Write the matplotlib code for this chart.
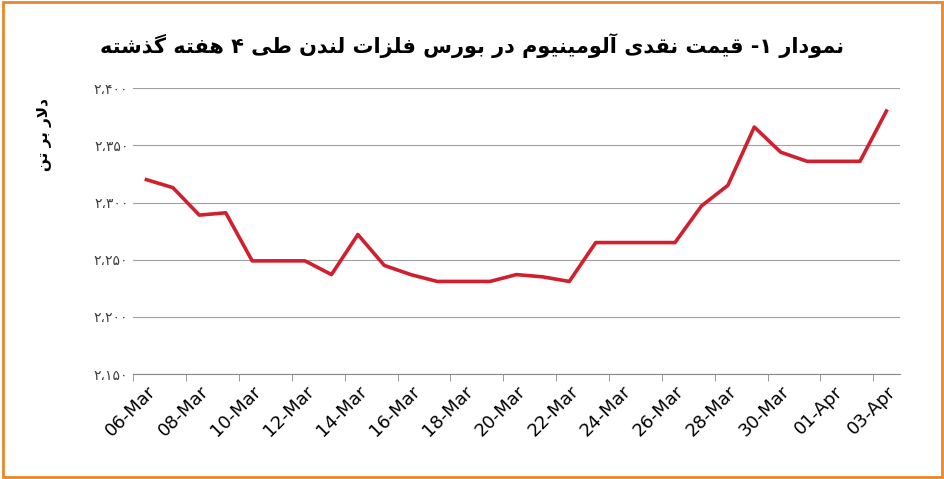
import numpy as np
import matplotlib.pyplot as plt
from matplotlib.patches import Rectangle

# داده ها
dates = ['06-Mar', '07-Mar', '08-Mar', '09-Mar', '10-Mar', '11-Mar', '12-Mar', '13-Mar',
         '14-Mar', '15-Mar', '16-Mar', '17-Mar', '18-Mar', '19-Mar', '20-Mar', '21-Mar',
         '22-Mar', '23-Mar', '24-Mar', '25-Mar', '26-Mar', '27-Mar', '28-Mar', '29-Mar',
         '30-Mar', '31-Mar', '01-Apr', '02-Apr', '03-Apr']
prices = [2320, 2313, 2289, 2291, 2249, 2249, 2249, 2237, 2272, 2245, 2237, 2231, 2231,
          2231, 2237, 2235, 2231, 2265, 2265, 2265, 2265, 2297, 2315, 2366, 2344, 2336,
          2336, 2336, 2380]
y_ticks = [2150, 2200, 2250, 2300, 2350, 2400]

title_text = 'نمودار ۱- قیمت نقدی آلومینیوم در بورس فلزات لندن طی ۴ هفته گذشته'
ylabel_text = 'دلار بر تن'

# شکل دهی ساده حروف فارسی (iso, fin, ini, med)
FORMS = {
    'ا': (0xFE8D, 0xFE8E, None, None), 'آ': (0xFE81, 0xFE82, None, None),
    'د': (0xFEA9, 0xFEAA, None, None), 'ذ': (0xFEAB, 0xFEAC, None, None),
    'ر': (0xFEAD, 0xFEAE, None, None), 'ز': (0xFEAF, 0xFEB0, None, None),
    'و': (0xFEED, 0xFEEE, None, None),
    'ب': (0xFE8F, 0xFE90, 0xFE91, 0xFE92), 'ت': (0xFE95, 0xFE96, 0xFE97, 0xFE98),
    'س': (0xFEB1, 0xFEB2, 0xFEB3, 0xFEB4), 'ش': (0xFEB5, 0xFEB6, 0xFEB7, 0xFEB8),
    'ط': (0xFEC1, 0xFEC2, 0xFEC3, 0xFEC4), 'ف': (0xFED1, 0xFED2, 0xFED3, 0xFED4),
    'ق': (0xFED5, 0xFED6, 0xFED7, 0xFED8), 'ل': (0xFEDD, 0xFEDE, 0xFEDF, 0xFEE0),
    'م': (0xFEE1, 0xFEE2, 0xFEE3, 0xFEE4), 'ن': (0xFEE5, 0xFEE6, 0xFEE7, 0xFEE8),
    'ه': (0xFEE9, 0xFEEA, 0xFEEB, 0xFEEC), 'ی': (0xFBFC, 0xFBFD, 0xFBFE, 0xFBFF),
    'گ': (0xFB92, 0xFB93, 0xFB94, 0xFB95),
}


def dual(c):
    return c in FORMS and FORMS[c][2] is not None


def reshape(s):
    s = s.replace('لا', '\uE000')
    out = []
    for i, c in enumerate(s):
        prev = s[i - 1] if i > 0 else ''
        nxt = s[i + 1] if i + 1 < len(s) else ''
        jp = dual(prev)
        if c == '\uE000':
            out.append(chr(0xFEFC if jp else 0xFEFB))
            continue
        if c not in FORMS:
            out.append(c)
            continue
        jn = dual(c) and (nxt in FORMS or nxt == '\uE000')
        f = FORMS[c]
        if jp and jn:
            out.append(chr(f[3]))
        elif jp:
            out.append(chr(f[1]))
        elif jn:
            out.append(chr(f[2]))
        else:
            out.append(chr(f[0]))
    return ''.join(out)[::-1]


def fa_num(v):
    digits = '۰۱۲۳۴۵۶۷۸۹'
    s = f'{v:,}'.replace(',', '،')
    return ''.join(digits[int(ch)] if ch.isdigit() else ch for ch in s)


plt.rcParams['font.family'] = ['DejaVu Sans']

fig = plt.figure(figsize=(9.45, 4.79), dpi=100)
ax = fig.add_axes([0.141, 0.219, 0.811, 0.597])

x = np.arange(len(dates))
ax.plot(x, prices, color='#d0202e', lw=2.6)

ax.set_ylim(2150, 2400)
ax.set_yticks(y_ticks)
ax.set_yticklabels([fa_num(v) for v in y_ticks], fontsize=10, color='#404040')
ax.set_xlim(-0.5, len(dates) - 0.5)
ax.set_xticks(x[::2])
ax.set_xticklabels(dates[::2], rotation=45, ha='right', rotation_mode='anchor', fontsize=13)
ax.set_xticks(np.arange(-0.5, len(dates), 2), minor=True)
ax.tick_params(axis='x', which='major', length=0, pad=6)
ax.tick_params(axis='x', which='minor', length=5, color='#888888')
ax.tick_params(axis='y', length=0)
ax.grid(axis='y', color='#a0a0a0', lw=0.8)
ax.set_axisbelow(True)
for side in ['top', 'right', 'left']:
    ax.spines[side].set_visible(False)
ax.spines['bottom'].set_color('#888888')

fig.text(0.5, 0.905, reshape(title_text), ha='center', va='center', fontsize=15, fontweight='bold')
fig.text(0.047, 0.72, reshape(ylabel_text), rotation=90, ha='center', va='center',
         fontsize=11, fontweight='bold')

fig.patches.append(Rectangle((0.003, 0.005), 0.994, 0.99, transform=fig.transFigure,
                             fill=False, edgecolor='#e8862a', lw=2))

fig.savefig('out.png', dpi=100)
